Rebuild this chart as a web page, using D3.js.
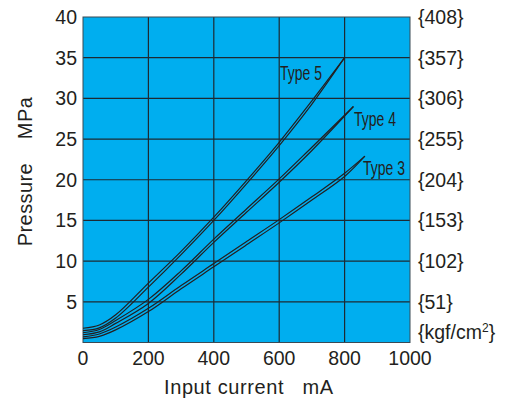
<!DOCTYPE html>
<html>
<head>
<meta charset="utf-8">
<script src="https://cdn.jsdelivr.net/npm/d3@7"></script>
<style>
  body { margin: 0; background: #fff; }
  text { font-family: "Liberation Sans", Arial, sans-serif; fill: #231f20; }
</style>
</head>
<body>
<div id="chart"></div>
<script>
// data (MPa vs mA); each type has a rising and falling trace
var xTicks = [0, 200, 400, 600, 800, 1000];
var yTicks = [5, 10, 15, 20, 25, 30, 35, 40];
var kgfLabels = ["{51}", "{102}", "{153}", "{204}", "{255}", "{306}", "{357}", "{408}"];

var type5X = [0, 50, 100, 200, 300, 400, 500, 600, 700, 800];
var type5Up = [1.75, 2.15, 3.4, 7.3, 11.2, 15.4, 19.9, 24.6, 29.7, 35.0];
var type5Dn = [1.45, 1.8, 3.0, 6.8, 10.8, 15.0, 19.5, 24.2, 29.3, 35.0];

var type4X = [0, 50, 100, 200, 300, 400, 500, 600, 700, 827];
var type4Up = [1.2, 1.6, 2.7, 5.3, 8.8, 12.7, 16.4, 20.1, 24.0, 29.0];
var type4Dn = [0.95, 1.3, 2.35, 4.8, 8.4, 12.3, 16.0, 19.7, 23.6, 29.0];

var type3X = [0, 50, 100, 200, 300, 400, 500, 600, 700, 800, 862];
var type3Up = [0.7, 1.05, 1.9, 4.2, 7.0, 9.7, 12.4, 15.1, 17.9, 20.8, 22.9];
var type3Dn = [0.47, 0.75, 1.55, 3.8, 6.6, 9.3, 12.0, 14.7, 17.5, 20.4, 22.9];

var width = 508;
var height = 403;
var mar = { left: 83, top: 17, right: 98, bottom: 60.5 };
var pw = width - mar.left - mar.right;
var ph = height - mar.top - mar.bottom;

var svg = d3.select("#chart").append("svg")
  .attr("width", width)
  .attr("height", height);

var g = svg.append("g")
  .attr("transform", "translate(" + mar.left + "," + mar.top + ")");

var xS = d3.scaleLinear().domain([0, 1000]).range([0, pw]);
var yS = d3.scaleLinear().domain([0, 40]).range([ph, 0]);

// blue panel
g.append("rect")
  .attr("width", pw)
  .attr("height", ph)
  .attr("fill", "#00aeef");

// grid
g.selectAll(".vgrid").data(xTicks.slice(1, -1)).enter()
  .append("line")
  .attr("x1", function(d) { return xS(d); })
  .attr("x2", function(d) { return xS(d); })
  .attr("y1", 0).attr("y2", ph)
  .attr("stroke", "#1d2a33").attr("stroke-width", 1.2);
g.selectAll(".hgrid").data(yTicks.slice(0, -1)).enter()
  .append("line")
  .attr("y1", function(d) { return yS(d); })
  .attr("y2", function(d) { return yS(d); })
  .attr("x1", 0).attr("x2", pw)
  .attr("stroke", "#1d2a33").attr("stroke-width", 1.2);

g.append("rect")
  .attr("width", pw)
  .attr("height", ph)
  .attr("fill", "none")
  .attr("stroke", "#3a4a55")
  .attr("stroke-width", 1);

// curves
var line = d3.line()
  .x(function(d) { return xS(d[0]); })
  .y(function(d) { return yS(d[1]); })
  .curve(d3.curveCatmullRom.alpha(0.5));

function pairs(xs, ys) {
  return xs.map(function(x, i) { return [x, ys[i]]; });
}

[[type5X, type5Up], [type5X, type5Dn],
 [type4X, type4Up], [type4X, type4Dn],
 [type3X, type3Up], [type3X, type3Dn]].forEach(function(s) {
  g.append("path")
    .attr("d", line(pairs(s[0], s[1])))
    .attr("fill", "none")
    .attr("stroke", "#231f20")
    .attr("stroke-width", 1.2);
});

// type labels (narrow face)
var labels = [
  { t: "Type 5", x: 280, y: 80 },
  { t: "Type 4", x: 354, y: 126 },
  { t: "Type 3", x: 363, y: 175 }
];
labels.forEach(function(l) {
  svg.append("text")
    .attr("transform", "translate(" + l.x + "," + l.y + ") scale(0.7,1)")
    .attr("font-size", 20)
    .text(l.t);
});

// x ticks
g.selectAll(".xt").data(xTicks).enter()
  .append("text")
  .attr("x", function(d) { return xS(d); })
  .attr("y", ph + 22.5)
  .attr("text-anchor", "middle")
  .attr("font-size", 19.5)
  .text(function(d) { return d; });

// y ticks
g.selectAll(".yt").data(yTicks).enter()
  .append("text")
  .attr("x", -6)
  .attr("y", function(d) { return yS(d) + 7; })
  .attr("text-anchor", "end")
  .attr("font-size", 19.5)
  .text(function(d) { return d; });

// right side kgf/cm2
g.selectAll(".rt").data(yTicks).enter()
  .append("text")
  .attr("x", pw + 8)
  .attr("y", function(d) { return yS(d) + 7; })
  .attr("font-size", 19.5)
  .text(function(d, i) { return kgfLabels[i]; });

var unit = g.append("text")
  .attr("x", pw + 8)
  .attr("y", ph - 4)
  .attr("font-size", 19.5);
unit.append("tspan").text("{kgf/cm");
unit.append("tspan").attr("font-size", 12).attr("dy", -7).text("2");
unit.append("tspan").attr("dy", 7).text("}");

// axis titles
svg.append("text")
  .attr("x", 164)
  .attr("y", 394)
  .attr("font-size", 20)
  .attr("letter-spacing", 0.6)
  .style("white-space", "pre")
  .text("Input current   mA");

svg.append("text")
  .attr("transform", "translate(32,171.5) rotate(-90)")
  .attr("text-anchor", "middle")
  .attr("font-size", 20)
  .attr("letter-spacing", 0.4)
  .style("white-space", "pre")
  .text("Pressure    MPa");
</script>
</body>
</html>
